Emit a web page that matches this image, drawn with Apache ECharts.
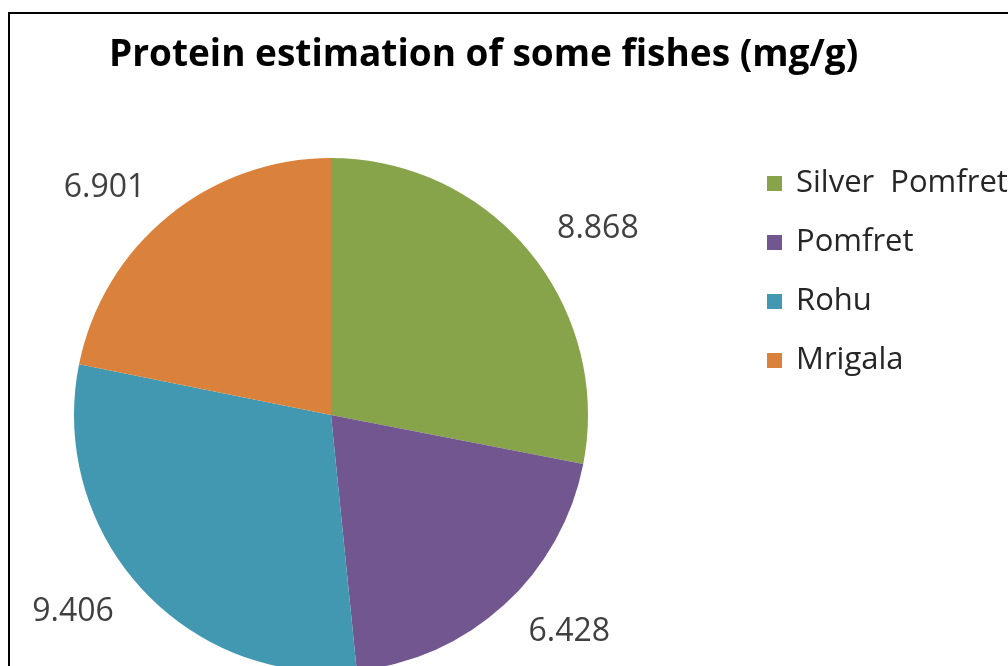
<!DOCTYPE html>
<html>
<head>
  <meta charset="utf-8">
  <title>Protein estimation</title>
  <script src="https://cdn.jsdelivr.net/npm/echarts@6/dist/echarts.min.js"></script>
  <style type="text/css">
    body { margin: 0; background: #fff; }
    #chart { position: absolute; left: 0; top: 0; width: 1008px; height: 666px; }
    /* frame of the original picture, cut off on the right and bottom */
    #frame { position: absolute; left: 8px; top: 12px; width: 1100px; height: 700px; border: 2px solid #000; pointer-events: none; }
  </style>
</head>
<body>
  <div id="chart"></div>
  <div id="frame"></div>
  <script>
    // data
    var fishes = ['Silver  Pomfret', 'Pomfret', 'Rohu', 'Mrigala'];
    var protein = [8.868, 6.428, 9.406, 6.901];
    var colors = ['#88a44a', '#71568f', '#4298b0', '#da823b'];

    var pieData = [];
    for (var i = 0; i < fishes.length; i++) {
      pieData.push({ name: fishes[i], value: protein[i], itemStyle: { color: colors[i] } });
    }

    var myChart = echarts.init(document.getElementById('chart'));
    var option = {
      animation: false,
      title: {
        text: 'Protein estimation of some fishes (mg/g)',
        left: 104,
        top: 32,
        textStyle: { fontFamily: 'Open Sans', fontWeight: 'bold', fontSize: 37, color: '#000' }
      },
      legend: {
        orient: 'vertical',
        left: 762,
        top: 163,
        itemWidth: 15,
        itemHeight: 15,
        itemGap: 28,
        icon: 'rect',
        data: fishes,
        textStyle: { fontFamily: 'Open Sans', fontSize: 31, color: '#262626', padding: [0, 0, 0, 9] }
      },
      series: [{
        type: 'pie',
        center: [331, 415],
        radius: 257,
        startAngle: 90,
        clockwise: true,
        data: pieData,
        label: {
          show: true,
          position: 'outside',
          distanceToLabelLine: 0,
          formatter: function (p) { return p.value.toFixed(3); },
          fontFamily: 'Open Sans',
          fontSize: 32,
          color: '#404040'
        },
        labelLine: { show: false, length: 36, length2: 0 },
        emphasis: { disabled: true }
      }]
    };
    myChart.setOption(option);
  </script>
</body>
</html>
